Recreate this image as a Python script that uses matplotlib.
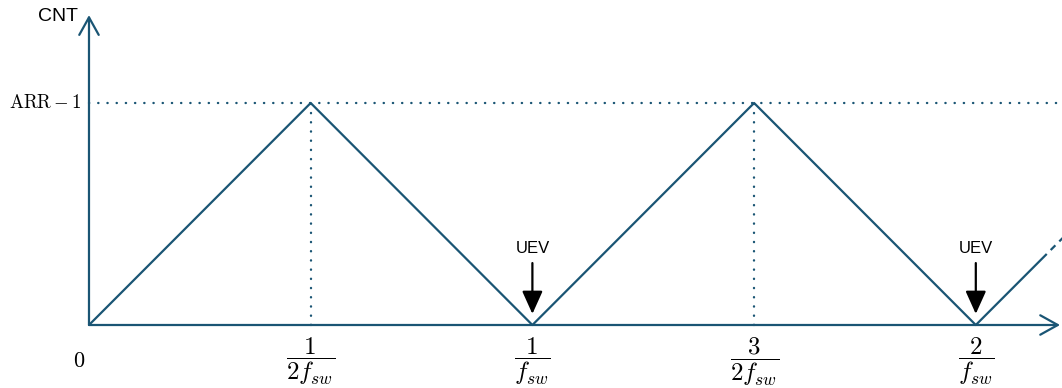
import matplotlib

matplotlib.use("Agg")
import matplotlib.pyplot as plt

# 中心对齐计数器（向上/向下计数）一个半周期的波形，单位：周期 1/f_sw，计数值归一化到 ARR-1
T_WAVE = [0.0, 0.5, 1.0, 1.5, 2.0, 2.16]
CNT_WAVE = [0.0, 1.0, 0.0, 1.0, 0.0, 0.32]
T_TAIL = [2.16, 2.2]
CNT_TAIL = [0.32, 0.40]

PEAKS = [0.5, 1.5]
UEV_AT = [1.0, 2.0]
TICKS = [0.5, 1.0, 1.5, 2.0]
TICK_LABELS = [r"$\dfrac{1}{2f_{sw}}$", r"$\dfrac{1}{f_{sw}}$",
               r"$\dfrac{3}{2f_{sw}}$", r"$\dfrac{2}{f_{sw}}$"]
ARR_LEVEL = 1.0

LINE = "#1a5574"


def setup_font():
    plt.rcParams["font.family"] = ["Liberation Sans", "DejaVu Sans"]
    plt.rcParams["mathtext.fontset"] = "cm"


def main():
    setup_font()
    fig = plt.figure(figsize=(10.62, 3.88), dpi=100)
    ax = fig.add_axes([0, 0, 1, 1])
    ax.set_xlim(-0.2007, 2.1944)
    ax.set_ylim(-0.2838, 1.464)
    ax.axis("off")

    x_end = 2.19
    y_end = 1.396

    # 坐标轴箭头
    arrow = dict(arrowstyle="->,head_length=0.9,head_width=0.5", lw=1.6,
                 color=LINE, shrinkA=0, shrinkB=0, mutation_scale=14)
    ax.annotate("", xy=(x_end, 0), xytext=(0, 0), arrowprops=arrow)
    ax.annotate("", xy=(0, y_end), xytext=(0, 0), arrowprops=arrow)

    # ARR-1 水平点线与峰值竖线
    dots = (0, (0.1, 3.8))
    ax.plot([0, 2.1944], [ARR_LEVEL, ARR_LEVEL], color=LINE, lw=1.7,
            linestyle=dots, dash_capstyle="round")
    for p in PEAKS:
        ax.plot([p, p], [0, ARR_LEVEL], color=LINE, lw=1.7,
                linestyle=dots, dash_capstyle="round")

    # 三角波
    ax.plot(T_WAVE, CNT_WAVE, color=LINE, lw=1.6, solid_capstyle="butt")
    ax.plot(T_TAIL, CNT_TAIL, color=LINE, lw=1.6, linestyle=(3, (3, 2.5)))

    # 更新事件
    for t in UEV_AT:
        ax.annotate("UEV", xy=(t, 0), xytext=(0, 55), textcoords="offset points",
                    ha="center", va="center", fontsize=12,
                    arrowprops=dict(arrowstyle="-|>,head_length=1.0,head_width=0.45",
                                    lw=1.6, color="black", shrinkA=3, shrinkB=8,
                                    mutation_scale=14))

    # 横轴刻度标签
    for t, lab in zip(TICKS, TICK_LABELS):
        ax.annotate(lab, xy=(t, 0), xytext=(0, -7), textcoords="offset points",
                    ha="center", va="top", fontsize=18)
    ax.annotate("$0$", xy=(0, 0), xytext=(-3, -26), textcoords="offset points",
                ha="right", va="center", fontsize=16)

    ax.annotate(r"$\mathrm{ARR}-1$", xy=(0, ARR_LEVEL), xytext=(-5, 0),
                textcoords="offset points", ha="right", va="center", fontsize=13.5)
    ax.annotate("CNT", xy=(0, y_end), xytext=(-8, -1), textcoords="offset points",
                ha="right", va="center", fontsize=14)

    fig.savefig("out.png", dpi=100)
    plt.close(fig)


if __name__ == "__main__":
    main()
